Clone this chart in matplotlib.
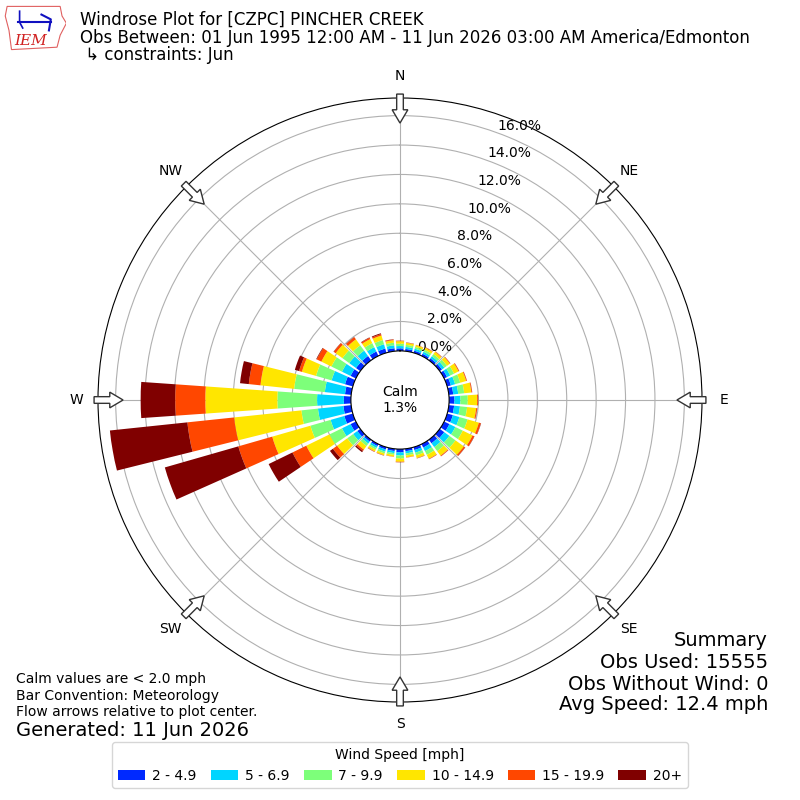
import numpy as np
import matplotlib
matplotlib.use("Agg")
import matplotlib.pyplot as plt
from matplotlib.patches import FancyArrow, Polygon

# direction bins (deg, meteorological), 10 degree sectors
dirs = np.arange(0, 360, 10)
# percent of obs per speed bin, directions 0,10,...,350
s2_5 = [0.17, 0.15, 0.15, 0.16, 0.17, 0.19, 0.22, 0.26, 0.30, 0.36, 0.36, 0.40,
        0.40, 0.38, 0.30, 0.26, 0.20, 0.16, 0.22, 0.15, 0.16, 0.15, 0.16, 0.25,
        0.40, 0.60, 0.53, 0.48, 0.42, 0.55, 0.40, 0.36, 0.36, 0.33, 0.30, 0.20]
s5_7 = [0.16, 0.14, 0.14, 0.15, 0.17, 0.20, 0.24, 0.30, 0.34, 0.41, 0.40, 0.46,
        0.45, 0.43, 0.32, 0.27, 0.19, 0.15, 0.21, 0.14, 0.15, 0.14, 0.17, 0.35,
        0.65, 0.97, 1.74, 1.82, 1.38, 0.95, 0.65, 0.57, 0.45, 0.33, 0.30, 0.20]
s7_10 = [0.16, 0.14, 0.13, 0.15, 0.18, 0.22, 0.29, 0.36, 0.41, 0.50, 0.49, 0.58,
         0.56, 0.52, 0.34, 0.28, 0.19, 0.14, 0.21, 0.12, 0.13, 0.13, 0.20, 0.50,
         0.95, 1.43, 1.13, 2.70, 2.10, 1.10, 0.80, 0.57, 0.45, 0.30, 0.30, 0.18]
s10_15 = [0.17, 0.14, 0.13, 0.15, 0.19, 0.24, 0.34, 0.42, 0.49, 0.64, 0.62, 0.80,
          0.74, 0.70, 0.38, 0.30, 0.19, 0.13, 0.22, 0.12, 0.13, 0.14, 0.30, 0.85,
          1.75, 2.70, 4.60, 4.90, 2.30, 1.00, 0.76, 0.57, 0.50, 0.31, 0.32, 0.17]
s15_20 = [0.03, 0.02, 0.02, 0.03, 0.03, 0.04, 0.05, 0.05, 0.05, 0.06, 0.07, 0.14,
          0.13, 0.10, 0.05, 0.03, 0.02, 0.02, 0.03, 0.02, 0.02, 0.03, 0.12, 0.35,
          1.05, 2.40, 3.20, 2.05, 0.80, 0.20, 0.35, 0.16, 0.18, 0.10, 0.10, 0.05]
s20p = [0.01, 0.01, 0.00, 0.01, 0.01, 0.01, 0.01, 0.01, 0.01, 0.01, 0.01, 0.02,
        0.02, 0.02, 0.01, 0.01, 0.01, 0.00, 0.01, 0.00, 0.01, 0.01, 0.10, 0.25,
        1.80, 5.20, 5.30, 2.35, 0.60, 0.30, 0.04, 0.02, 0.02, 0.03, 0.06, 0.02]
bins = [s2_5, s5_7, s7_10, s10_15, s15_20, s20p]
bin_labels = ["2 - 4.9", "5 - 6.9", "7 - 9.9", "10 - 14.9", "15 - 19.9", "20+"]
calm = 1.3
compass = ["N", "NE", "E", "SE", "S", "SW", "W", "NW"]

colors = plt.cm.jet(np.linspace(1 / 6., 1, 6))

fig = plt.figure(figsize=(8, 8), dpi=100)
ax = fig.add_axes([0.1225, 0.1225, 0.755, 0.755], projection="polar")
ax.set_theta_zero_location("N")
ax.set_theta_direction(-1)

theta = np.deg2rad(dirs)
width = np.deg2rad(10) * 0.8
base = np.zeros(len(dirs))
handles = []
for vals, c, lab in zip(bins, colors, bin_labels):
    vals = np.array(vals)
    b = ax.bar(theta, vals, width=width, bottom=base, color=c,
               edgecolor="none", label=lab, zorder=2)
    handles.append(b)
    base = base + vals

ax.set_ylim(0, 17.2)
ax.set_rorigin(-3.34)
ax.set_yticks(np.arange(0, 17, 2))
ax.set_yticklabels(["%.1f%%" % v for v in np.arange(0, 17, 2)], fontsize=10)
ax.set_rlabel_position(20)
ax.set_xticks(np.deg2rad(np.arange(0, 360, 45)))
ax.set_xticklabels([])
ax.grid(True, color="#b0b0b0", lw=0.8)

ax.text(0.5, 0.5, "Calm\n%.1f%%" % calm, transform=ax.transAxes,
        ha="center", va="center", fontsize=10)

# compass labels and flow arrows
for i, lab in enumerate(compass):
    a = np.deg2rad(i * 45)
    sx, sy = np.sin(a), np.cos(a)
    ax.text(0.5 + 0.5 * 1.073 * sx, 0.5 + 0.5 * 1.073 * sy, lab,
            transform=ax.transAxes, ha="center", va="center", fontsize=10)
    x0, y0 = 0.5 + 0.5 * 1.013 * sx, 0.5 + 0.5 * 1.013 * sy
    ln = 0.5 * 0.096
    arr = FancyArrow(x0, y0, -ln * sx, -ln * sy, width=0.011,
                     head_width=0.026, head_length=0.022,
                     length_includes_head=True, transform=ax.transAxes,
                     facecolor="white", edgecolor="#333333", lw=1.0,
                     clip_on=False, zorder=5)
    ax.add_artist(arr)

# header
fig.text(0.1, 0.975, "Windrose Plot for [CZPC] PINCHER CREEK", fontsize=12,
         va="center")
fig.text(0.1, 0.953, "Obs Between: 01 Jun 1995 12:00 AM - 11 Jun 2026 03:00 AM "
         "America/Edmonton", fontsize=12, va="center")
fig.text(0.1, 0.931, " \u21b3 constraints: Jun", fontsize=12, va="center")

# logo
lax = fig.add_axes([0.005, 0.935, 0.078, 0.06])
lax.set_xlim(0, 1)
lax.set_ylim(0, 1)
lax.axis("off")
lax.add_patch(Polygon([[0.05, 0.95], [0.9, 0.95], [0.93, 0.75], [1.0, 0.6],
                       [0.9, 0.35], [0.85, 0.1], [0.12, 0.05], [0.08, 0.45],
                       [0.02, 0.75]], closed=True, fill=False,
                      edgecolor="#e06060", lw=0.8))
lax.plot([0.22, 0.75], [0.62, 0.62], color="#1010c0", lw=1.5)
lax.plot([0.25, 0.25, 0.3], [0.85, 0.62, 0.5], color="#1010c0", lw=1.2)
lax.plot([0.6, 0.75, 0.72], [0.78, 0.68, 0.45], color="#1010c0", lw=1.5)
lax.text(0.42, 0.22, "IEM", color="#d02020", fontsize=11, style="italic",
         family="DejaVu Serif", ha="center", va="center")

# notes
fig.text(0.02, 0.151, "Calm values are < 2.0 mph", fontsize=10, va="center")
fig.text(0.02, 0.130, "Bar Convention: Meteorology", fontsize=10, va="center")
fig.text(0.02, 0.110, "Flow arrows relative to plot center.", fontsize=10,
         va="center")
fig.text(0.02, 0.0875, "Generated: 11 Jun 2026", fontsize=14, va="center")

fig.text(0.96, 0.2, "Summary", fontsize=14, ha="right", va="center")
fig.text(0.96, 0.1725, "Obs Used: 15555", fontsize=14, ha="right", va="center")
fig.text(0.96, 0.145, "Obs Without Wind: 0", fontsize=14, ha="right",
         va="center")
fig.text(0.96, 0.119, "Avg Speed: 12.4 mph", fontsize=14, ha="right",
         va="center")

fig.legend(handles, bin_labels, ncol=6, loc="lower center",
           bbox_to_anchor=(0.5, 0.006), title="Wind Speed [mph]", fontsize=10,
           title_fontsize=10, columnspacing=1.0, handletextpad=0.5)

fig.savefig("out.png", dpi=100)
